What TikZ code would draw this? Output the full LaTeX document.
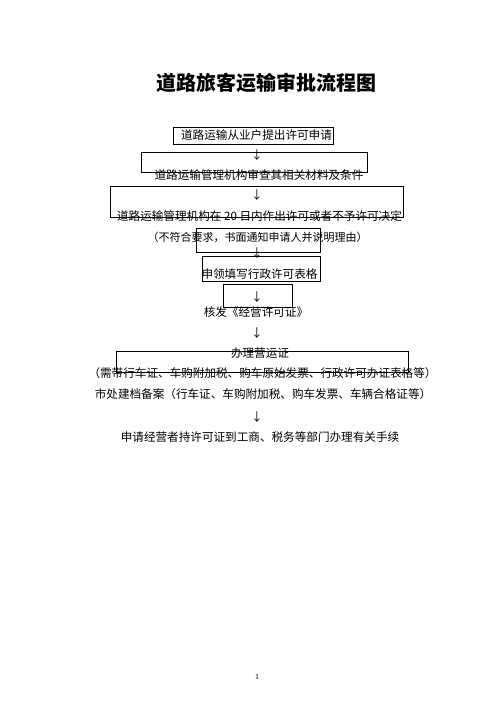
\documentclass[tikz,border=0pt]{standalone}
\usepackage{fontspec}
\setmainfont{Liberation Serif}
\newfontfamily\cjk{Noto Sans CJK SC}
\begin{document}
\begin{tikzpicture}[x=1pt,y=-1pt,
  box/.style={draw=black,line width=0.8pt,inner sep=0pt,rectangle},
  txt/.style={inner sep=0pt,font=\cjk\fontsize{11.6pt}{13pt}\selectfont},
  arr/.style={inner sep=0pt,font=\cjk\fontsize{11.6pt}{13pt}\selectfont}]
\useasboundingbox[fill=white] (0,0) rectangle (496,702);
% boxes
\node[box,minimum width=160pt,minimum height=17pt] (b1) at (253,135.5) {};
\node[box,minimum width=226pt,minimum height=20pt] (b2) at (254,162) {};
\node[box,minimum width=293pt,minimum height=31pt] (b3) at (256.5,201.5) {};
\node[box,minimum width=124pt,minimum height=24pt] (b4) at (258,240) {};
\node[box,minimum width=118pt,minimum height=25pt] (b5) at (261,268.5) {};
\node[box,minimum width=69pt,minimum height=23pt] (b6) at (257.5,295.5) {};
\node[box,minimum width=292pt,minimum height=21pt] (b7) at (262,361.5) {};
% title
\node[inner sep=0pt,font=\cjk\bfseries\fontsize{20pt}{24pt}\selectfont] (title) at (266,83) {道路旅客运输审批流程图};
% texts
\node[txt] (t1) at (256.5,135.5) {道路运输从业户提出许可申请};
\node[arr] (a1) at (257,155) {↓};
\node[txt] (t2) at (259,175) {道路运输管理机构审查其相关材料及条件};
\node[arr] (a2) at (257,195) {↓};
\node[txt] (t3) at (259.5,216) {道路运输管理机构在 20 日内作出许可或者不予许可决定};
\node[txt,font=\cjk\fontsize{11pt}{13pt}\selectfont] (t4) at (257.5,237) {（不符合要求，书面通知申请人并说明理由）};
\node[arr] (a3) at (257,253) {↓};
\node[txt] (t5) at (259.5,274) {申领填写行政许可表格};
\node[arr] (a4) at (257,297) {↓};
\node[txt] (t6) at (256,312) {核发《经营许可证》};
\node[arr] (a5) at (257,333) {↓};
\node[txt] (t7) at (260,353) {办理营运证};
\node[txt] (t8) at (262.5,373) {（需带行车证、车购附加税、购车原始发票、行政许可办证表格等）};
\node[txt] (t9) at (263,394) {市处建档备案（行车证、车购附加税、购车发票、车辆合格证等）};
\node[arr] (a6) at (257,417) {↓};
\node[txt] (t10) at (260,437) {申请经营者持许可证到工商、税务等部门办理有关手续};
\node[inner sep=0pt,font=\fontsize{8pt}{9pt}\selectfont] (page) at (257,677) {1};
\end{tikzpicture}
\end{document}
